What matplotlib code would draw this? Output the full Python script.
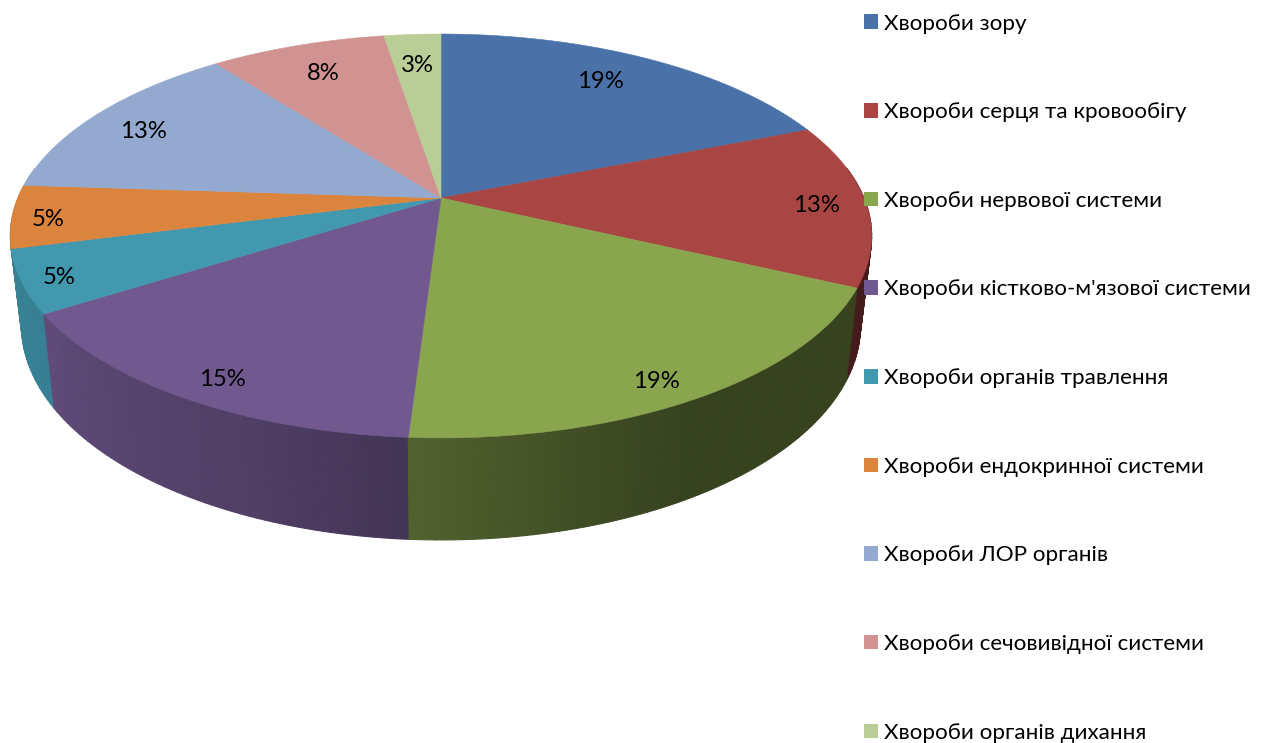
#!usr/bin/env python3
# -*- coding: utf-8 -*-

'3D pie of disease groups'

import numpy as np
import matplotlib
matplotlib.use('Agg')
import matplotlib.pyplot as plt
from matplotlib.patches import Polygon, Patch

plt.rcParams['font.family'] = ['Lato', 'Noto Sans', 'DejaVu Sans']

categories = ['Хвороби зору', 'Хвороби серця та кровообігу', 'Хвороби нервової системи',
              "Хвороби кістково-м'язової системи", 'Хвороби органів травлення',
              'Хвороби ендокринної системи', 'Хвороби ЛОР органів',
              'Хвороби сечовивідної системи', 'Хвороби органів дихання']
shares = [18.9, 13.1, 19.0, 15.0, 5.0, 5.05, 13.49, 7.9, 2.56]
colors = ['#4A72A8', '#A94543', '#89A54E', '#71588F', '#4198AF', '#DB843D', '#93A9CF', '#D19392', '#B9CD96']

# where the percent labels sit, in pixels
label_pos = [(600, 82), (816, 205), (656, 381), (222, 379), (59, 277), (48, 219), (143, 131), (323, 73), (417, 65)]

# wall brightness against angle
shade_angle = [90, 150, 165, 183, 200, 237, 275]
shade_value = [0.40, 0.40, 0.47, 0.59, 0.70, 0.84, 0.88]


def project(theta, cx, cy, a, b, k):
    # perspective view of the unit circle, theta clockwise from the top
    x = np.sin(theta)
    y = np.cos(theta)
    d = 1 + k * y
    return cx + a * x / d, cy - b * y / d


def top(theta):
    return project(theta, 441, 198, 423, 194.8, 0.188)


def bottom(theta):
    return project(theta, 441, 285, 412, 207, 0.188)


fig = plt.figure(figsize=(12.65, 7.43), dpi=100)
ax = fig.add_axes([0, 0, 1, 1])
ax.set_xlim(0, 1265)
ax.set_ylim(743, 0)
ax.axis('off')

values = np.array(shares, dtype=float)
edges = np.concatenate([[0], np.cumsum(values)]) / values.sum() * 2 * np.pi
base = [np.array(matplotlib.colors.to_rgb(c)) for c in colors]

# side wall, cut in thin strips so the shading runs along it
strips = []
for i in range(len(values)):
    lo = max(edges[i], np.pi * 0.45)
    hi = min(edges[i + 1], np.pi * 1.55)
    if hi <= lo:
        continue
    steps = max(int((hi - lo) / np.radians(1.0)), 1)
    ts = np.linspace(lo, hi, steps + 1)
    for t0, t1 in zip(ts[:-1], ts[1:]):
        strips.append((t0, t1, i))

# far strips first so the near ones cover them
strips.sort(key=lambda s: -np.cos((s[0] + s[1]) / 2))
for t0, t1, i in strips:
    tx0, ty0 = top(t0)
    tx1, ty1 = top(t1)
    bx0, by0 = bottom(t0)
    bx1, by1 = bottom(t1)
    f = np.interp(np.degrees((t0 + t1) / 2), shade_angle, shade_value)
    c = base[i] * f
    ax.add_patch(Polygon([(tx0, ty0), (tx1, ty1), (bx1, by1), (bx0, by0)], closed=True,
                         facecolor=c, edgecolor=c, linewidth=0.8, zorder=2))

# top face
for i in range(len(values)):
    ts = np.linspace(edges[i], edges[i + 1], 200)
    px, py = top(ts)
    pts = np.column_stack([np.r_[441, px], np.r_[198, py]])
    ax.add_patch(Polygon(pts, closed=True, facecolor=colors[i], edgecolor=colors[i], linewidth=0.4, zorder=3))

for v, (lx, ly) in zip(values, label_pos):
    ax.text(lx, ly, '%d%%' % round(v / values.sum() * 100), ha='center', va='center',
            fontsize=17.2, color='black', zorder=5)

handles = [Patch(facecolor=c, edgecolor='none') for c in colors]
ax.legend(handles, categories, loc='upper left', bbox_to_anchor=(864, 13.5), bbox_transform=ax.transData,
          frameon=False, fontsize=16.1, borderpad=0, borderaxespad=0, handlelength=0.63, handleheight=0.63,
          handletextpad=0.27, labelspacing=3.07)

fig.savefig('out.png', dpi=100)
